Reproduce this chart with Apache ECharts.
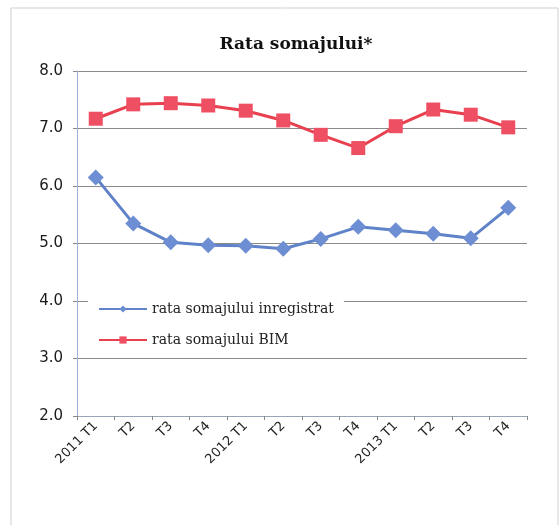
<!DOCTYPE html>
<html>
<head>
<meta charset="utf-8">
<script src="https://cdn.jsdelivr.net/npm/echarts@6/dist/echarts.min.js"></script>
<style>
  html, body { margin: 0; padding: 0; background: #fff; }
  #chart { width: 560px; height: 525px; }
</style>
</head>
<body>
<div id="chart"></div>
<script>
// trimestre
const quarters = ['2011 T1', 'T2', 'T3', 'T4', '2012 T1', 'T2', 'T3', 'T4', '2013 T1', 'T2', 'T3', 'T4'];
// rata somajului inregistrat (%)
const rataInregistrat = [6.15, 5.35, 5.02, 4.97, 4.96, 4.91, 5.08, 5.29, 5.23, 5.17, 5.09, 5.62];
// rata somajului BIM (%)
const rataBIM = [7.17, 7.42, 7.44, 7.40, 7.31, 7.14, 6.89, 6.66, 7.04, 7.33, 7.24, 7.02];

const myChart = echarts.init(document.getElementById('chart'));

const option = {
  backgroundColor: '#fff',
  animation: false,
  title: {
    text: 'Rata somajului*',
    left: 291,
    textAlign: 'center',
    top: 31,
    textStyle: {
      fontFamily: 'DejaVu Serif',
      fontWeight: 'bold',
      fontSize: 17,
      color: '#111'
    }
  },
  graphic: [
    {
      type: 'rect',
      shape: { x: 11, y: 8, width: 547, height: 530 },
      style: { fill: 'none', stroke: '#cfcfcf', lineWidth: 1 },
      silent: true
    }
  ],
  legend: {
    orient: 'vertical',
    left: 88,
    top: 294,
    padding: [8, 10, 8, 10],
    itemGap: 17,
    itemWidth: 48,
    itemHeight: 9,
    backgroundColor: '#fff',
    textStyle: {
      fontFamily: 'DejaVu Serif',
      fontSize: 14,
      color: '#222'
    },
    data: ['rata somajului inregistrat', 'rata somajului BIM']
  },
  grid: {
    left: 77,
    right: 33,
    top: 71,
    bottom: 109
  },
  xAxis: {
    type: 'category',
    data: quarters,
    boundaryGap: true,
    axisLine: { lineStyle: { color: '#9aa4b8', width: 1 } },
    axisTick: { show: true, length: 4, lineStyle: { color: '#888' } },
    axisLabel: {
      rotate: 45,
      margin: 8,
      fontFamily: 'DejaVu Sans',
      fontSize: 13,
      color: '#222',
      interval: 0
    }
  },
  yAxis: {
    type: 'value',
    min: 2,
    max: 8,
    interval: 1,
    axisLine: { show: true, lineStyle: { color: '#9fb3dc', width: 1 } },
    axisTick: { show: true, length: 4, lineStyle: { color: '#888' } },
    axisLabel: {
      margin: 14,
      fontFamily: 'DejaVu Sans',
      fontSize: 15,
      color: '#1a1a1a',
      formatter: v => v.toFixed(1)
    },
    splitLine: { lineStyle: { color: '#8a8a8a', width: 1 } }
  },
  series: [
    {
      name: 'rata somajului inregistrat',
      type: 'line',
      data: rataInregistrat,
      symbol: 'diamond',
      symbolSize: 16,
      itemStyle: { color: '#6d8ed2' },
      lineStyle: { color: '#5f82c9', width: 3 }
    },
    {
      name: 'rata somajului BIM',
      type: 'line',
      data: rataBIM,
      symbol: 'rect',
      symbolSize: 14,
      itemStyle: { color: '#ef4f63' },
      lineStyle: { color: '#e8404f', width: 3 }
    }
  ]
};

myChart.setOption(option);
</script>
</body>
</html>
